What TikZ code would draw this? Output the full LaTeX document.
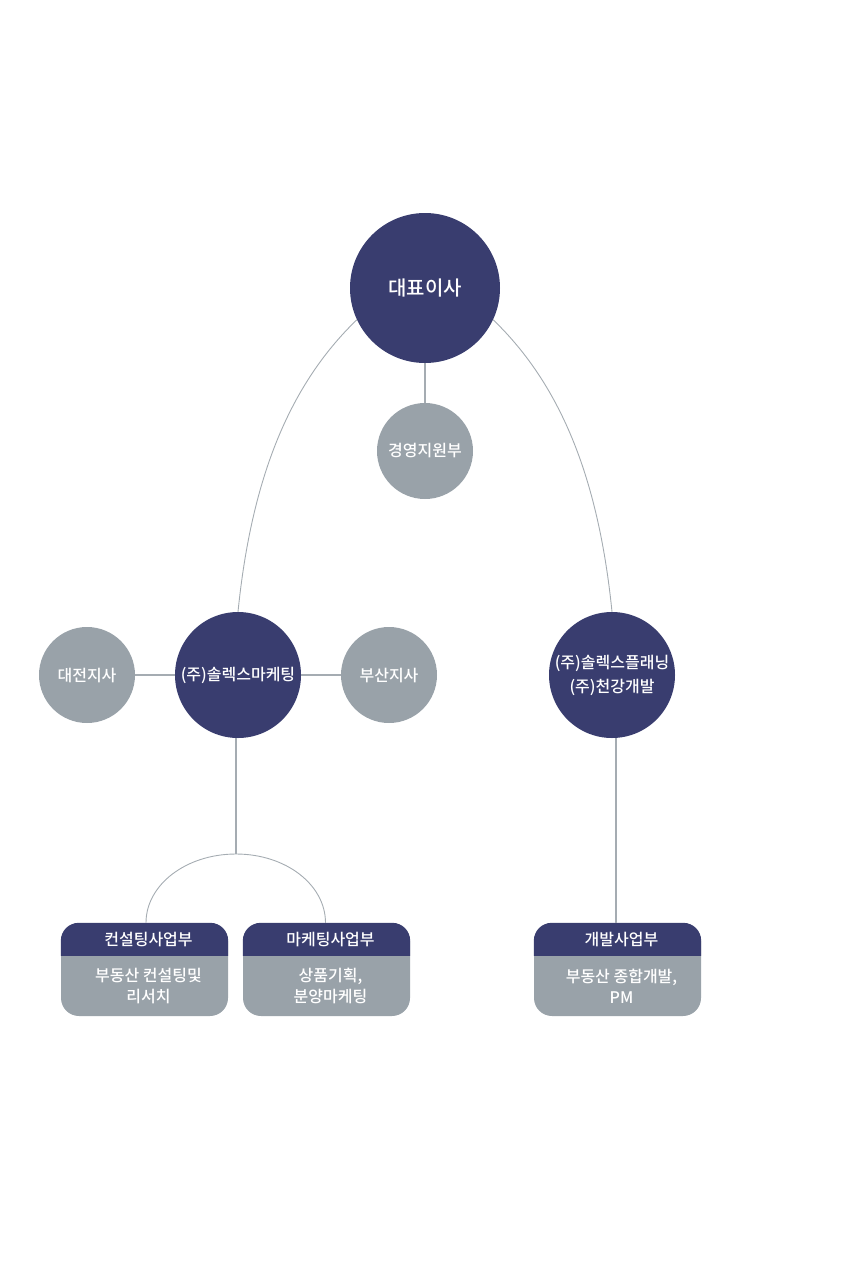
\documentclass[tikz,border=0pt]{standalone}
\usepackage{fontspec}
\setmainfont{Noto Sans CJK KR}[UprightFont={* Medium}]
\definecolor{navy}{HTML}{393D6F}
\definecolor{grayfill}{HTML}{99A2A9}
\definecolor{linegray}{HTML}{A5ACB2}
\begin{document}
\begin{tikzpicture}[x=1pt,y=-1pt,
  navcirc/.style={circle,fill=navy,inner sep=0pt,text=white,align=center,font=\fontsize{16}{24}\selectfont},
  graycirc/.style={circle,fill=grayfill,inner sep=0pt,minimum size=96pt,text=white,font=\fontsize{16}{20}\selectfont},
  deptbox/.style={rectangle,rounded corners=18pt,fill=grayfill,minimum width=167pt,minimum height=93pt,inner sep=0pt},
  boxtext/.style={text=white,align=center,font=\fontsize{16}{21}\selectfont},
  thickline/.style={draw=linegray,line width=2pt},
  thinline/.style={draw=linegray,line width=0.9pt}]
\useasboundingbox (0,0) rectangle (850,1264);
% circles
\node[navcirc,minimum size=150pt,font=\fontsize{20}{24}\selectfont] (ceo) at (425,288) {대표이사};
\node[graycirc] (gs) at (425,451) {경영지원부};
\node[navcirc,minimum size=126pt] (sm) at (238,675) {(주)솔렉스마케팅};
\node[graycirc] (dj) at (87,675) {대전지사};
\node[graycirc] (bs) at (389,675) {부산지사};
\node[navcirc,minimum size=126pt] (sp) at (612,675) {(주)솔렉스플래닝\\(주)천강개발};
% boxes
\node[deptbox] (b1) at (144.5,969.5) {};
\node[deptbox] (b2) at (326.5,969.5) {};
\node[deptbox] (b3) at (617.5,969.5) {};
\foreach \b/\h/\t in {b1/컨설팅사업부/{부동산 컨설팅및\\리서치}, b2/마케팅사업부/{상품기획,\\분양마케팅}, b3/개발사업부/{부동산 종합개발,\\PM}}{
  \fill[navy] ([yshift=-33pt]\b.north west) {[rounded corners=18pt] -- (\b.north west) -- (\b.north east)} -- ([yshift=-33pt]\b.north east) -- cycle;
  \node[boxtext] (\b h) at ([xshift=4pt,yshift=-16.5pt]\b.north) {\h};
  \node[boxtext] (\b t) at ([xshift=4pt,yshift=-63pt]\b.north) {\t};
}
% connectors
\coordinate (j1) at (236,854);
\coordinate (j2) at ([xshift=-1.5pt]b3.north);
\draw[thickline] (ceo.south) -- (gs.north);
\draw[thickline] (dj.east) -- (sm.west);
\draw[thickline] (sm.east) -- (bs.west);
\draw[thickline] (j1 |- sm.south) -- (j1);
\draw[thickline] (j2 |- sp.south) -- (j2);
\draw[thinline] (ceo.205) .. controls (287,387) and (251,483) .. (sm.north);
\draw[thinline] (ceo.-25) .. controls (563,387) and (599,483) .. (sp.north);
\draw[thinline] ([xshift=1.5pt]b1.north) .. controls +(0,-38) and +(-50,0) .. (j1) .. controls +(50,0) and +(0,-38) .. ([xshift=-1pt]b2.north);
\end{tikzpicture}
\end{document}
